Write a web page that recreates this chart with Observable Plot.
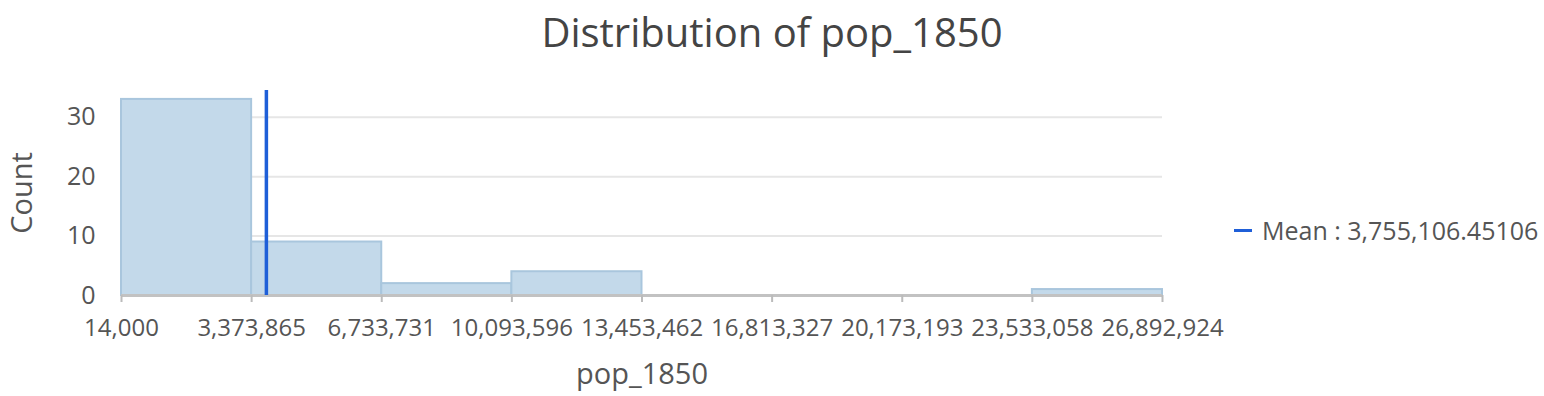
<!DOCTYPE html>
<html><head><meta charset="utf-8">
<script src="https://cdn.jsdelivr.net/npm/d3@7"></script>
<script src="https://cdn.jsdelivr.net/npm/@observablehq/plot@0.6"></script>
<style>
body{margin:0;background:#fff;font-family:"Open Sans",sans-serif;}
#wrap{position:relative;width:1544px;height:396px;overflow:hidden;}
#title{position:absolute;left:0;top:0;width:1544px;text-align:center;font-size:40px;color:#444;line-height:64px;}
#chart{position:absolute;left:0;top:66px;}
#legend{position:absolute;left:1234px;top:213px;font-size:25px;color:#555;white-space:nowrap;display:flex;align-items:center;}
#legend .sw{display:inline-block;width:18px;height:3px;background:#1f5fd8;margin-right:10px;}
</style></head><body>
<div id="wrap">
  <div id="title">Distribution of pop_1850</div>
  <div id="chart"></div>
  <div id="legend"><span class="sw"></span><span>Mean : 3,755,106.45106</span></div>
</div>
<script>
const binEdges = [14000, 3373865, 6733731, 10093596, 13453462, 16813327, 20173193, 23533058, 26892924];
const counts = [33, 9, 2, 4, 0, 0, 0, 1];
const meanValue = 3755106.45106;
const yTicks = [0, 10, 20, 30];
const xLabel = "pop_1850";
const yLabel = "Count";

const bins = counts.map((c, i) => ({x1: binEdges[i], x2: binEdges[i + 1], count: c}));
const fmt = d3.format(",");

const chart = Plot.plot({
  width: 1544,
  height: 330,
  marginLeft: 121,
  marginRight: 382,
  marginTop: 24,
  marginBottom: 101,
  style: {fontFamily: "'Open Sans', sans-serif", color: "#555", background: "transparent"},
  x: {domain: [binEdges[0], binEdges[binEdges.length - 1]]},
  y: {domain: [0, 34.5]},
  marks: [
    Plot.gridY(yTicks.slice(1), {stroke: "#e6e6e6", strokeOpacity: 1, strokeWidth: 2}),
    Plot.rectY(bins.filter(d => d.count > 0), {x1: "x1", x2: "x2", y: "count", fill: "#c3d9ea", stroke: "#a9c6dd", strokeWidth: 2}),
    Plot.ruleY([0], {stroke: "#c2c2c2", strokeWidth: 3}),
    Plot.axisX({ticks: binEdges, tickFormat: fmt, tickSize: 7, tickPadding: 16, stroke: "#bbb", strokeWidth: 2, fontSize: 24, label: null}),
    Plot.axisY({ticks: yTicks, tickSize: 0, tickPadding: 26, fontSize: 25, label: null}),
    Plot.ruleX([meanValue], {stroke: "#1f5fd8", strokeWidth: 3.5}),
    Plot.text([xLabel], {frameAnchor: "bottom", dy: 88, fontSize: 29, fill: "#555"}),
    Plot.text([yLabel], {frameAnchor: "left", dx: -99, rotate: -90, textAnchor: "middle", fontSize: 29, fill: "#555"})
  ]
});
document.getElementById("chart").appendChild(chart);
</script>
</body></html>
